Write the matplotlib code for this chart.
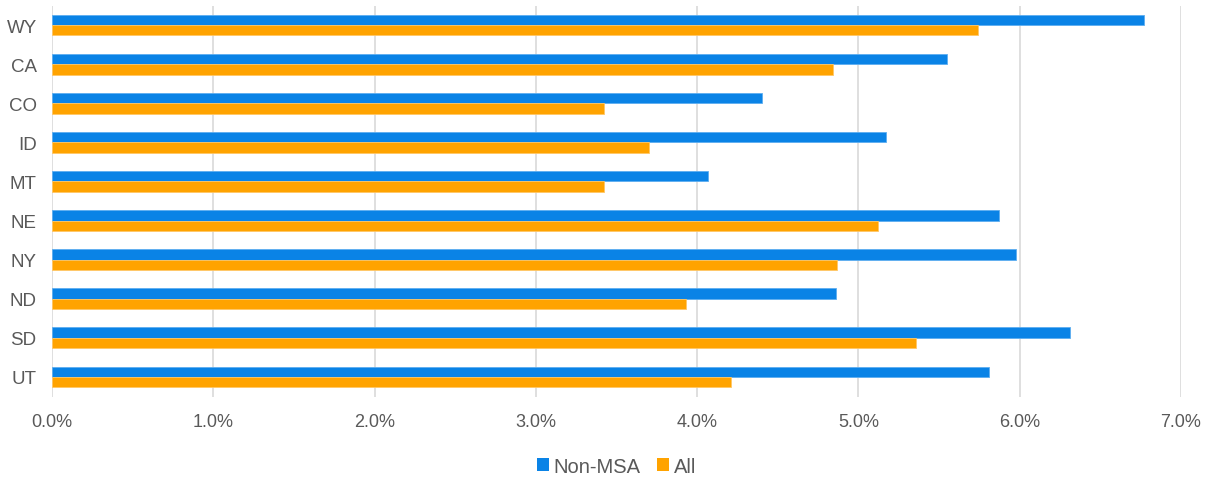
import matplotlib.pyplot as plt
import numpy as np
from matplotlib.ticker import FuncFormatter, MultipleLocator

plt.rcParams['font.family'] = ['Liberation Sans', 'DejaVu Sans']

# share of population by state, percent
states = ["WY", "CA", "CO", "ID", "MT", "NE", "NY", "ND", "SD", "UT"]
non_msa = [6.77, 5.55, 4.40, 5.17, 4.07, 5.87, 5.98, 4.86, 6.31, 5.81]
all_areas = [5.74, 4.84, 3.42, 3.70, 3.42, 5.12, 4.87, 3.93, 5.36, 4.21]

blue = "#0A83E6"
orange = "#FFA300"
text_col = "#595959"

fig = plt.figure(figsize=(12.11, 4.81), dpi=100)
ax = fig.add_axes([52 / 1211, 1 - 397.5 / 481, 1129 / 1211, 391 / 481])

y = np.arange(len(states))
h = 0.265
ax.barh(y - h / 2, non_msa, height=h, color=blue, edgecolor="#5DAEF0", linewidth=0.6, label="Non-MSA")
ax.barh(y + h / 2, all_areas, height=h, color=orange, edgecolor="#FFC766", linewidth=0.6, label="All")

ax.set_xlim(0, 7)
ax.set_ylim(len(states) - 0.5, -0.5)
ax.set_yticks(y)
ax.set_yticklabels(states)
ax.xaxis.set_major_locator(MultipleLocator(1))
ax.xaxis.set_major_formatter(FuncFormatter(lambda v, p: f"{v:.1f}%"))

ax.grid(axis="x", color="#D9D9D9", linewidth=1.2)
ax.set_axisbelow(True)
for s in ax.spines.values():
    s.set_visible(False)
ax.tick_params(axis="both", length=0, colors=text_col)
ax.tick_params(axis="y", labelsize=13.5, pad=11)
ax.tick_params(axis="x", labelsize=13, pad=12)

leg = ax.legend(loc="center", bbox_to_anchor=(0.5, -0.178), ncol=2, frameon=False,
                fontsize=14.5, labelcolor=text_col, handlelength=0.6, handleheight=0.68,
                handletextpad=0.2, columnspacing=0.85)
for hnd in leg.legend_handles:
    hnd.set_linewidth(0)

fig.savefig("out.png", dpi=100)
